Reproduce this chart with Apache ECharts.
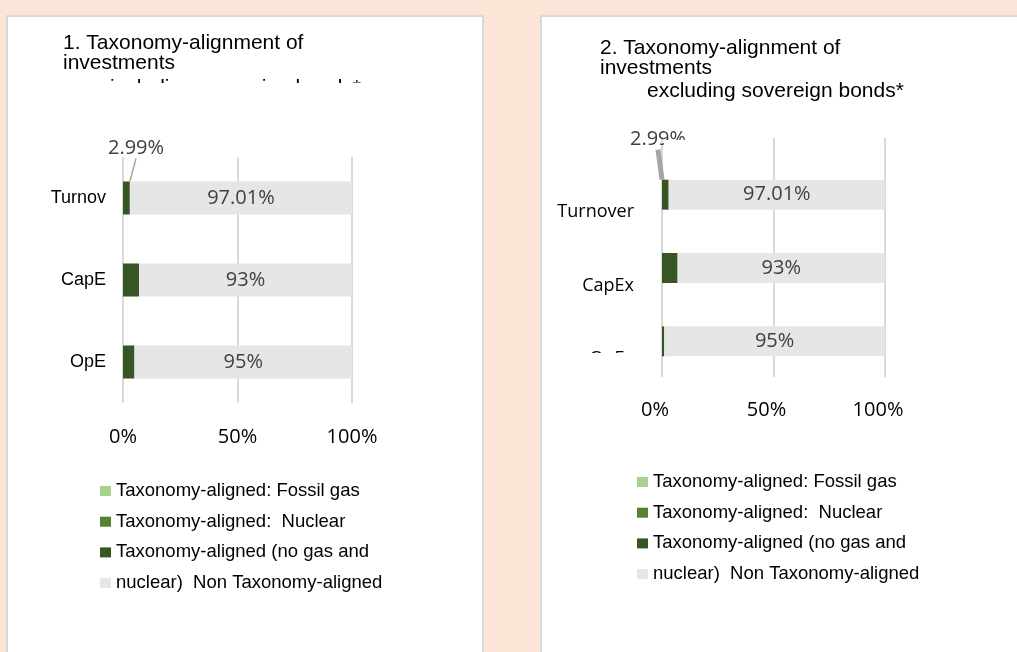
<!DOCTYPE html>
<html>
<head>
<meta charset="utf-8">
<title>Taxonomy-alignment of investments</title>
<script src="https://cdn.jsdelivr.net/npm/echarts@6.0.0/dist/echarts.min.js"></script>
<style>
html, body { margin: 0; padding: 0; width: 1017px; height: 652px; overflow: hidden; background: #fbe5d6; }
.panel { position: absolute; background: #fff; border: 2px solid #d9d9d9; box-sizing: border-box; }
#p1 { left: 6px; top: 15px; width: 478px; height: 660px; }
#p2 { left: 540px; top: 15px; width: 500px; height: 660px; }
#chart { position: absolute; left: 0; top: 0; width: 1017px; height: 652px; }
</style>
</head>
<body>
<div id="p1" class="panel"></div>
<div id="p2" class="panel"></div>
<div id="chart"></div>
<script>
// categories as they show on the two charts
const categoriesLeft = ['Turnov', 'CapE', 'OpE'];
const categoriesRight = ['Turnover', 'CapEx', 'OpEx'];

const seriesNames = [
    'Taxonomy-aligned: Fossil gas',
    'Taxonomy-aligned: Nuclear',
    'Taxonomy-aligned (no gas and nuclear)',
    'Non Taxonomy-aligned'
];
const legendLabels = [
    'Taxonomy-aligned: Fossil gas',
    'Taxonomy-aligned:  Nuclear',
    'Taxonomy-aligned (no gas and',
    'nuclear)  Non Taxonomy-aligned'
];
const colors = ['#a9d18e', '#548235', '#375623', '#e7e6e6'];

// chart 1 - including sovereign bonds (%)
const fossilGasLeft = [0, 0, 0];
const nuclearLeft = [0, 0, 0];
const alignedLeft = [2.99, 7, 5];
const nonAlignedLeft = [97.01, 93, 95];

// chart 2 - excluding sovereign bonds (%)
const fossilGasRight = [0, 0, 0];
const nuclearRight = [0, 0, 0];
const alignedRight = [2.99, 7, 1];
const nonAlignedRight = [97.01, 93, 99];

const nonAlignedLabels = ['97.01%', '93%', '95%'];
const calloutLabel = '2.99%';

const numFont = 'Open Sans';
const textFont = 'Liberation Sans';

function makeSeries(xIdx, yIdx, rows, barWidth, callout) {
    return rows.map((vals, s) => {
        const serie = {
            name: seriesNames[s],
            type: 'bar',
            stack: 'chart' + xIdx,
            xAxisIndex: xIdx,
            yAxisIndex: yIdx,
            barWidth: barWidth,
            itemStyle: { color: colors[s] },
            data: vals.slice()
        };
        if (s === 2) {
            serie.labelLine = { show: true, lineStyle: callout.line };
            serie.data = vals.map((v, i) => i !== 0 ? v : {
                value: v,
                label: {
                    show: true,
                    position: callout.pos,
                    align: 'center',
                    verticalAlign: 'middle',
                    formatter: calloutLabel,
                    color: '#404040',
                    fontFamily: numFont,
                    fontSize: 20
                }
            });
        }
        if (s === 3) {
            serie.label = {
                show: true,
                position: 'inside',
                formatter: p => nonAlignedLabels[p.dataIndex],
                color: '#404040',
                fontFamily: numFont,
                fontSize: 20
            };
        }
        return serie;
    });
}

const legendBase = {
    orient: 'vertical',
    icon: 'rect',
    itemWidth: 11,
    itemHeight: 10,
    itemGap: 10.7,
    padding: 0,
    selectedMode: false,
    data: seriesNames,
    formatter: name => legendLabels[seriesNames.indexOf(name)],
    textStyle: { fontFamily: textFont, fontSize: 18.5, color: '#000', lineHeight: 20 }
};

const titleStyle = { fontFamily: textFont, fontSize: 21, fontWeight: 'normal', color: '#000', lineHeight: 20 };

const valueAxis = (grid, margin, padding) => ({
    gridIndex: grid,
    type: 'value',
    min: 0,
    max: 100,
    interval: 50,
    axisLine: { show: false },
    axisTick: { show: false },
    splitLine: { lineStyle: { color: '#d9d9d9', width: 2 } },
    axisLabel: { formatter: '{value}%', margin: margin, padding: padding, fontFamily: numFont, fontSize: 20, color: '#000' }
});

const option = {
    animation: false,
    title: [
        { text: '1. Taxonomy-alignment of\ninvestments', left: 63, top: 33, padding: 0, textStyle: titleStyle },
        { text: 'including sovereign bonds*', left: 110, top: 78, padding: 0, textStyle: titleStyle },
        { text: '2. Taxonomy-alignment of\ninvestments', left: 600, top: 38, padding: 0, textStyle: titleStyle },
        { text: 'excluding sovereign bonds*', left: 647, top: 81, padding: 0, textStyle: titleStyle }
    ],
    legend: [
        Object.assign({}, legendBase, { left: 100, top: 481 }),
        Object.assign({}, legendBase, { left: 637, top: 472 })
    ],
    grid: [
        { left: 123, top: 157, width: 229, height: 246, outerBoundsMode: 'none' },
        { left: 662, top: 138, width: 223, height: 239, outerBoundsMode: 'none' },
        { left: 662, top: 158, width: 223, height: 220, outerBoundsMode: 'none' }
    ],
    xAxis: [
        valueAxis(0, 24, 0),
        valueAxis(1, 23, [0, 14, 0, 0]),
        { gridIndex: 2, type: 'value', min: 0, max: 100, show: false }
    ],
    yAxis: [
        {
            gridIndex: 0, type: 'category', inverse: true, data: categoriesLeft,
            axisLine: { show: false }, axisTick: { show: false },
            axisLabel: { margin: 17, fontFamily: textFont, fontSize: 18, color: '#000' }
        },
        { gridIndex: 1, type: 'value', show: false },
        {
            gridIndex: 2, type: 'category', inverse: true, data: categoriesRight,
            axisLine: { show: false }, axisTick: { show: false },
            axisLabel: { margin: 28, verticalAlign: 'top', lineHeight: 35, fontFamily: numFont, fontSize: 18, color: '#000' }
        }
    ],
    series: [].concat(
        makeSeries(0, 0, [fossilGasLeft, nuclearLeft, alignedLeft, nonAlignedLeft], 33,
            { pos: [13, -33], line: { color: '#a6a6a6', width: 1.5 } }),
        makeSeries(2, 2, [fossilGasRight, nuclearRight, alignedRight, nonAlignedRight], 30,
            { pos: [-4, -40], line: { color: '#a6a6a6', width: 5 } })
    ),
    // the source picture has a few clipped texts
    graphic: [
        { type: 'rect', z: 100, shape: { x: 95, y: 83, width: 290, height: 22 }, style: { fill: '#fff' } },
        { type: 'rect', z: 100, shape: { x: 578, y: 353, width: 64, height: 20 }, style: { fill: '#fff' } },
        { type: 'rect', z: 100, shape: { x: 664, y: 140, width: 28, height: 12 }, style: { fill: '#fff' } }
    ]
};

const myChart = echarts.init(document.getElementById('chart'));
myChart.setOption(option);
</script>
</body>
</html>
